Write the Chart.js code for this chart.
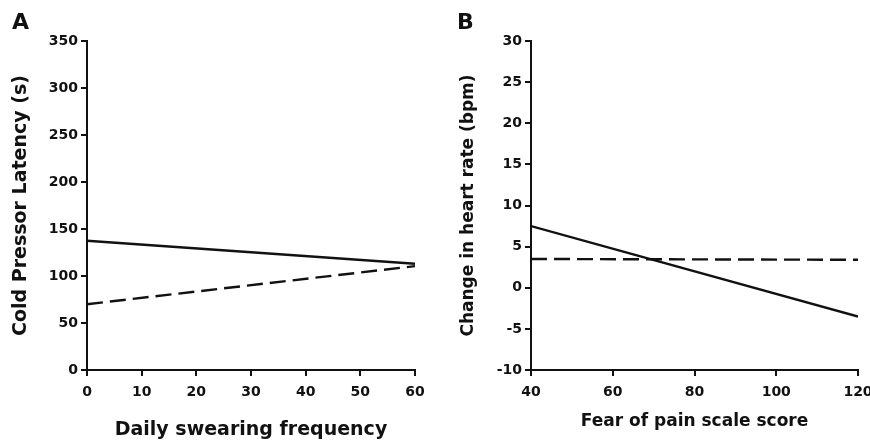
<!DOCTYPE html>
<html>
<head>
<meta charset="utf-8">
<script src="https://cdn.jsdelivr.net/npm/chart.js@4"></script>
<style>
  html, body { margin: 0; padding: 0; background: #fff; }
  #wrap { position: relative; width: 870px; height: 445px; overflow: hidden; }
  .panel { position: absolute; top: 0; width: 435px; height: 445px; }
  .letter { position: absolute; font: bold 22px "DejaVu Sans", sans-serif; line-height: 1; color: #111; }
</style>
</head>
<body>
<div id="wrap">
  <div class="panel" style="left:0"><canvas id="chartA" width="435" height="445"></canvas></div>
  <div class="panel" style="left:435px"><canvas id="chartB" width="435" height="445"></canvas></div>
  <div class="letter" style="left:12px;top:11px">A</div>
  <div class="letter" style="left:457px;top:11px">B</div>
</div>
<script>
// panel A: cold pressor latency vs daily swearing frequency
const swearX = [0, 60];
const latencySolid = [137.5, 113];
const latencyDashed = [70, 110.5];
const swearTicks = [0, 10, 20, 30, 40, 50, 60];
const latencyTicks = [0, 50, 100, 150, 200, 250, 300, 350];

// panel B: change in heart rate vs fear of pain
const fearX = [40, 120];
const hrSolid = [7.5, -3.5];
const hrDashed = [3.5, 3.4];
const fearTicks = [40, 60, 80, 100, 120];
const hrTicks = [-10, -5, 0, 5, 10, 15, 20, 25, 30];

const FONT = "'DejaVu Sans', sans-serif";
const INK = "#111";

function pts(xs, ys) {
  return xs.map((x, i) => ({ x: x, y: ys[i] }));
}

function axis(ticks, opts) {
  return {
    type: "linear",
    min: ticks[0],
    max: ticks[ticks.length - 1],
    afterBuildTicks: s => { s.ticks = ticks.map(v => ({ value: v })); },
    border: { display: true, color: INK, width: 2 },
    grid: { drawOnChartArea: false, drawTicks: true, tickLength: 6, color: INK, lineWidth: 2 },
    ticks: { color: INK, padding: opts.tickPad, maxRotation: 0, font: { family: FONT, size: 14, weight: "bold" } },
    title: {
      display: true,
      text: opts.title,
      color: INK,
      padding: opts.titlePad,
      font: { family: FONT, size: opts.titleSize, weight: "bold" }
    },
    afterFit: s => {
      if (opts.width) s.width = opts.width;
      if (opts.height) {
        s.height = opts.height;
        // let the layout padding decide the plot edges, not the label overhang
        s.paddingLeft = 0;
        s.paddingRight = 0;
      }
    }
  };
}

function makeChart(id, xs, solid, dashed, xCfg, yCfg, pad) {
  return new Chart(document.getElementById(id), {
    type: "line",
    data: {
      datasets: [
        { data: pts(xs, solid), borderColor: INK, borderWidth: 2.4, pointRadius: 0, tension: 0 },
        { data: pts(xs, dashed), borderColor: INK, borderWidth: 2.4, borderDash: [16, 7], pointRadius: 0, tension: 0 }
      ]
    },
    options: {
      responsive: false,
      animation: false,
      layout: { padding: pad },
      plugins: { legend: { display: false }, tooltip: { enabled: false } },
      scales: { x: xCfg, y: yCfg }
    }
  });
}

makeChart("chartA", swearX, latencySolid, latencyDashed,
  axis(swearTicks, { title: "Daily swearing frequency", titleSize: 19, titlePad: { top: 0, bottom: 4 }, tickPad: 8, height: 75 }),
  axis(latencyTicks, { title: "Cold Pressor Latency (s)", titleSize: 19, titlePad: { top: 10, bottom: 0 }, tickPad: 3, width: 87 }),
  { left: 0, right: 20, top: 41, bottom: 0 });

makeChart("chartB", fearX, hrSolid, hrDashed,
  axis(fearTicks, { title: "Fear of pain scale score", titleSize: 17, titlePad: { top: 0, bottom: 13 }, tickPad: 8, height: 75 }),
  axis(hrTicks, { title: "Change in heart rate (bpm)", titleSize: 17, titlePad: { top: 23, bottom: 0 }, tickPad: 3, width: 96 }),
  { left: 0, right: 12, top: 41, bottom: 0 });
</script>
</body>
</html>
